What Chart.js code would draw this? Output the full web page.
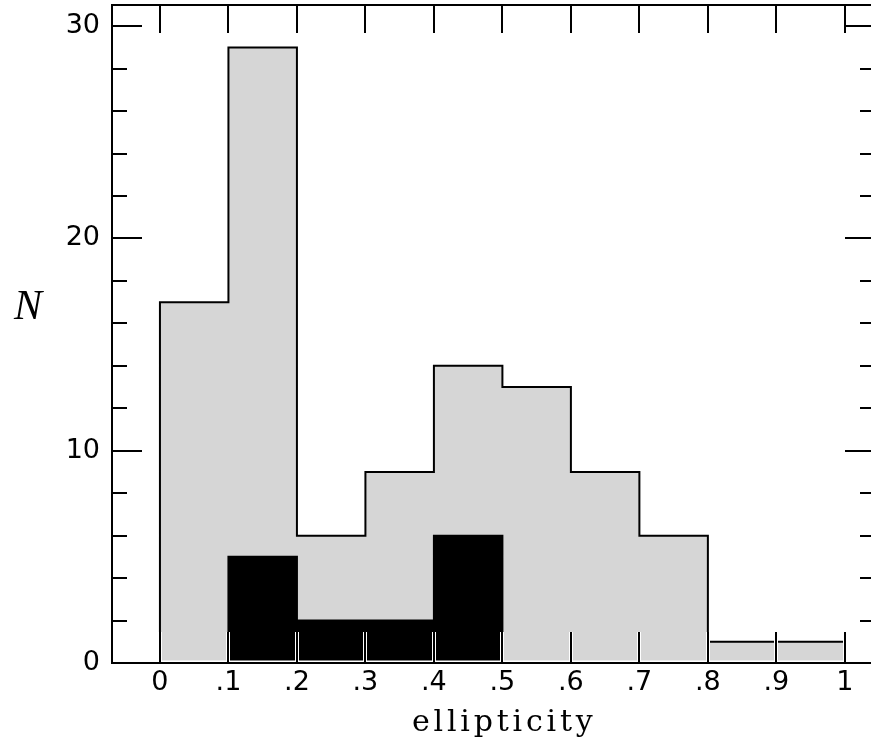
<!DOCTYPE html>
<html><head><meta charset="utf-8">
<script src="https://cdn.jsdelivr.net/npm/chart.js@4.4.0/dist/chart.umd.min.js"></script>
<style>html,body{margin:0;padding:0;overflow:hidden;background:#fff}#wrap{position:relative;width:880px;height:745px}</style>
</head><body><div id="wrap"><canvas id="c"></canvas></div>
<script>
// ---- data ----
const binEdges = [0, 0.1, 0.2, 0.3, 0.4, 0.5, 0.6, 0.7, 0.8, 0.9, 1.0];
const allCounts = [17, 29, 6, 9, 14, 13, 9, 6, 1, 1];
const subCounts = [0, 5, 2, 2, 6, 0, 0, 0, 0, 0];
const xTickValues = [0, 0.1, 0.2, 0.3, 0.4, 0.5, 0.6, 0.7, 0.8, 0.9, 1.0];
const xTickLabels = ['0', '.1', '.2', '.3', '.4', '.5', '.6', '.7', '.8', '.9', '1'];
const yMajorTicks = [0, 10, 20, 30];
const yTickLabels = ['0', '10', '20', '30'];
const yMinorTicks = [2, 4, 6, 8, 12, 14, 16, 18, 22, 24, 26, 28];
const xTitle = 'ellipticity';
const yTitle = 'N';

// ---- build step outlines from the bins ----
function histPoints(edges, counts) {
  const first = counts.findIndex(c => c > 0);
  let last = counts.length - 1;
  while (last > 0 && counts[last] <= 0) last--;
  const pts = [{x: edges[first], y: 0}];
  for (let i = first; i <= last; i++) {
    pts.push({x: edges[i], y: counts[i]});
    pts.push({x: edges[i + 1], y: counts[i]});
  }
  pts.push({x: edges[last + 1], y: 0});
  return pts;
}

const framePlugin = {
  id: 'frame',
  afterDatasetsDraw(chart) {
    const {ctx, chartArea: a, scales: {x, y}} = chart;
    const L = Math.round(a.left), R = Math.round(a.right), T = Math.round(a.top), B = Math.round(a.bottom);
    ctx.save();
    ctx.lineCap = 'butt';
    const line = (x1, y1, x2, y2) => { ctx.beginPath(); ctx.moveTo(x1, y1); ctx.lineTo(x2, y2); ctx.stroke(); };
    // bottom ticks (with white halo)
    const bl = 31;
    ctx.strokeStyle = '#fff'; ctx.lineWidth = 4;
    xTickValues.forEach(v => { const px = Math.round(x.getPixelForValue(v)); line(px, B - bl, px, B); });
    ctx.lineWidth = 5; line(L, B, R, B);
    ctx.strokeStyle = '#000'; ctx.lineWidth = 2;
    xTickValues.forEach(v => { const px = Math.round(x.getPixelForValue(v)); line(px, B - bl, px, B); });
    // top ticks
    xTickValues.forEach(v => { const px = Math.round(x.getPixelForValue(v)); line(px, T, px, T + 28); });
    // left / right ticks
    yMajorTicks.forEach(v => { const py = Math.round(y.getPixelForValue(v)); line(L, py, L + 30, py); line(R - 30, py, R, py); });
    yMinorTicks.forEach(v => { const py = Math.round(y.getPixelForValue(v)); line(L, py, L + 15, py); line(R - 15, py, R, py); });
    // frame
    ctx.strokeRect(L, T, R - L, B - T);
    // axis titles
    ctx.fillStyle = '#000';
    ctx.font = 'italic 42px "Liberation Serif"';
    ctx.textAlign = 'center'; ctx.textBaseline = 'alphabetic';
    ctx.fillText(yTitle, 28, 319);
    ctx.font = '30px "DejaVu Serif"';
    const sp = 3.8;
    try { ctx.letterSpacing = sp + 'px'; } catch (e) {}
    ctx.textAlign = 'left';
    const w = ctx.measureText(xTitle).width - sp;
    ctx.fillText(xTitle, x.getPixelForValue(0.5) - w / 2, 731);
    ctx.restore();
  }
};

new Chart(document.getElementById('c'), {
  type: 'line',
  data: {
    datasets: [
      { data: histPoints(binEdges, subCounts), borderColor: '#000', backgroundColor: '#000', borderWidth: 2, fill: 'origin', pointRadius: 0, tension: 0 },
      { data: histPoints(binEdges, allCounts), borderColor: '#000', backgroundColor: '#d6d6d6', borderWidth: 2, fill: 'origin', pointRadius: 0, tension: 0 }
    ]
  },
  options: {
    responsive: true, maintainAspectRatio: false, animation: false,
    layout: { autoPadding: false, padding: { left: 0, top: 5, right: 5, bottom: 0 } },
    plugins: { legend: { display: false }, tooltip: { enabled: false } },
    scales: {
      x: {
        type: 'linear', position: 'bottom', min: -0.07, max: 1.044,
        grid: { display: false, drawTicks: false }, border: { display: false },
        ticks: { font: { family: 'DejaVu Sans', size: 27 }, color: '#000', padding: 3.5, maxRotation: 0, autoSkip: false,
          callback: (v) => { const i = xTickValues.findIndex(t => Math.abs(t - v) < 1e-9); return i >= 0 ? xTickLabels[i] : ''; } },
        afterBuildTicks: (s) => { s.ticks = xTickValues.map(v => ({value: v})); },
        afterFit: (s) => { s.height = 82; s.paddingLeft = 0; s.paddingRight = 0; }
      },
      y: {
        type: 'linear', position: 'left', min: 0, max: 31,
        grid: { display: false, drawTicks: false }, border: { display: false },
        ticks: { font: { family: 'DejaVu Sans', size: 27 }, color: '#000', padding: 12, autoSkip: false,
          callback: (v) => { const i = yMajorTicks.indexOf(v); return i >= 0 ? yTickLabels[i] : ''; } },
        afterBuildTicks: (s) => { s.ticks = yMajorTicks.map(v => ({value: v})); },
        afterFit: (s) => { s.width = 112; s.paddingTop = 0; s.paddingBottom = 0; }
      }
    }
  },
  plugins: [framePlugin]
});
</script>
</body></html>
